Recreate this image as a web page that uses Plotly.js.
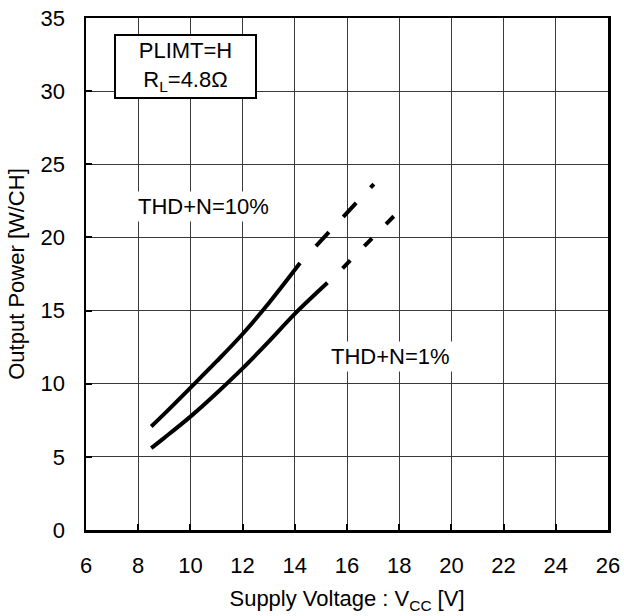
<!DOCTYPE html>
<html>
<head>
<meta charset="utf-8">
<script src="https://cdn.plot.ly/plotly-3.0.1.min.js"></script>
<style>html,body{margin:0;padding:0;background:#fff;}#chart{width:624px;height:616px;}</style>
</head>
<body>
<div id="chart"></div>
<script>
// THD+N = 10% (measured, solid)
var thd10_x = [8.5, 9, 10, 11, 12, 13, 14.2];
var thd10_y = [7.08, 7.94, 9.72, 11.52, 13.4, 15.5, 18.25];
// THD+N = 10% (extrapolated, dashed)
var thd10d_x = [14.81, 17.03];
var thd10d_y = [19.41, 23.65];
// THD+N = 1% (measured, solid)
var thd1_x = [8.5, 9, 10, 11, 12, 13, 14, 15.25];
var thd1_y = [5.6, 6.3, 7.75, 9.35, 11.05, 12.88, 14.78, 16.9];
// THD+N = 1% (extrapolated, dashed)
var thd1d_x = [15.83, 17.8];
var thd1d_y = [17.89, 21.46];

var xTicks = [6, 8, 10, 12, 14, 16, 18, 20, 22, 24, 26];
var yTicks = [0, 5, 10, 15, 20, 25, 30, 35];

var FONT = 'Liberation Sans, Arial, sans-serif';
var FS = 22;

var traces = [
  {x: thd10_x, y: thd10_y, mode: 'lines', line: {color: '#000', width: 4, shape: 'spline', smoothing: 1}},
  {x: thd10d_x, y: thd10d_y, mode: 'lines', line: {color: '#000', width: 4, dash: '19px,21px'}},
  {x: thd1_x, y: thd1_y, mode: 'lines', line: {color: '#000', width: 4, shape: 'spline', smoothing: 1}},
  {x: thd1d_x, y: thd1d_y, mode: 'lines', line: {color: '#000', width: 4, dash: '11px,20px'}}
];

var layout = {
  width: 624, height: 616,
  margin: {l: 86, r: 16, t: 18, b: 86},
  paper_bgcolor: '#fff', plot_bgcolor: '#fff',
  showlegend: false,
  font: {family: FONT, size: FS, color: '#000'},
  xaxis: {
    range: [6, 26], tickvals: xTicks, ticktext: xTicks.map(String),
    showgrid: true, gridcolor: '#3a3a3a', gridwidth: 1,
    showline: true, linecolor: '#000', linewidth: 2.5, mirror: true,
    ticks: 'inside', ticklen: 6, tickwidth: 2, tickcolor: '#000',
    ticklabelstandoff: 14, zeroline: false, fixedrange: true,
    tickfont: {family: FONT, size: FS, color: '#000'},
    title: {text: 'Supply Voltage : V<sub>CC</sub> [V]', font: {family: FONT, size: FS, color: '#000'}, standoff: 14}
  },
  yaxis: {
    range: [0, 35], tickvals: yTicks, ticktext: yTicks.map(String),
    showgrid: true, gridcolor: '#3a3a3a', gridwidth: 1,
    showline: true, linecolor: '#000', linewidth: 2.5, mirror: true,
    ticks: 'inside', ticklen: 6, tickwidth: 2, tickcolor: '#000',
    ticklabelstandoff: 14, zeroline: false, fixedrange: true,
    tickfont: {family: FONT, size: FS, color: '#000'},
    title: {text: 'Output Power [W/CH]', font: {family: FONT, size: FS, color: '#000'}, standoff: 10}
  },
  annotations: [
    {x: 9.81, y: 31.68, xref: 'x', yref: 'y', showarrow: false,
     text: 'PLIMT=H<br>R<sub>L</sub>=4.8Ω', align: 'center',
     font: {family: FONT, size: FS, color: '#000'},
     bgcolor: '#fff', bordercolor: '#000', borderwidth: 2, borderpad: 2,
     width: 135, height: 57},
    {x: 10.52, y: 22.1, xref: 'x', yref: 'y', showarrow: false,
     text: 'THD+N=10%', font: {family: FONT, size: FS, color: '#000'},
     bgcolor: '#fff', borderpad: 2},
    {x: 17.65, y: 11.85, xref: 'x', yref: 'y', showarrow: false,
     text: 'THD+N=1%', font: {family: FONT, size: FS, color: '#000'},
     bgcolor: '#fff', borderpad: 2}
  ]
};

Plotly.newPlot('chart', traces, layout, {staticPlot: true, displayModeBar: false});
</script>
</body>
</html>
